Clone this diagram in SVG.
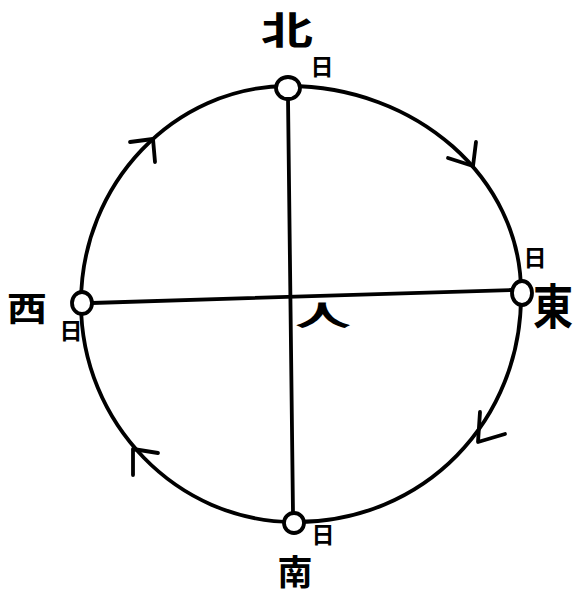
<svg xmlns="http://www.w3.org/2000/svg" width="576" height="597" viewBox="0 0 576 597">
<style>
.ln{fill:none;stroke:#000;stroke-width:3.8;stroke-linecap:round;stroke-linejoin:round}
.nd{fill:#fff;stroke:#000;stroke-width:3.8}
.big{font-family:"Noto Sans CJK JP","Noto Sans CJK SC",sans-serif;font-size:40px;font-weight:bold;fill:#000;text-anchor:middle}
.sm{font-family:"Noto Sans CJK JP","Noto Sans CJK SC",sans-serif;font-size:23px;font-weight:bold;fill:#000;text-anchor:middle}
</style>
<rect width="576" height="597" fill="#fff"/>
<g id="connectors">
<path class="ln" d="M288,86 C416,86 521,178 521,292 C523,420 424,523 294,522 C177,522 81,423 81,303 C81,184 174,86 288,86 Z"/>
<path class="ln" d="M288,98 L293,513"/>
<path class="ln" d="M92,303 L511,290"/>
<path class="ln" d="M130,142 L153,139 L155,162"/>
<path class="ln" d="M448,158 L473,166 L476,142"/>
<path class="ln" d="M480,412 L478,442 L505,434"/>
<path class="ln" d="M158,453 L133,449 L133,475"/>
</g>
<g id="north">
<ellipse class="nd" cx="288" cy="88" rx="12" ry="11"/>
<text class="big" x="0" y="15" transform="translate(287,30) scale(1.3,0.95)">北</text>
<text class="sm" x="322" y="75">日</text>
</g>
<g id="west">
<ellipse class="nd" cx="82" cy="303" rx="10" ry="11"/>
<text class="big" x="0" y="15" transform="translate(27,308) scale(1.0,0.85)">西</text>
<text class="sm" x="71" y="339">日</text>
</g>
<g id="east">
<ellipse class="nd" cx="522" cy="293" rx="10" ry="12"/>
<text class="big" x="0" y="15" transform="translate(553,306) scale(1.0,1.2)">東</text>
<text class="sm" x="535" y="266">日</text>
</g>
<g id="south">
<ellipse class="nd" cx="294" cy="523" rx="10" ry="10"/>
<text class="big" x="0" y="13" style="font-size:35px" transform="translate(295,572)">南</text>
<text class="sm" x="323" y="543">日</text>
</g>
<g id="person">
<text class="big" x="0" y="15" transform="translate(323,315) scale(1.4,0.7)">人</text>
</g>
</svg>
